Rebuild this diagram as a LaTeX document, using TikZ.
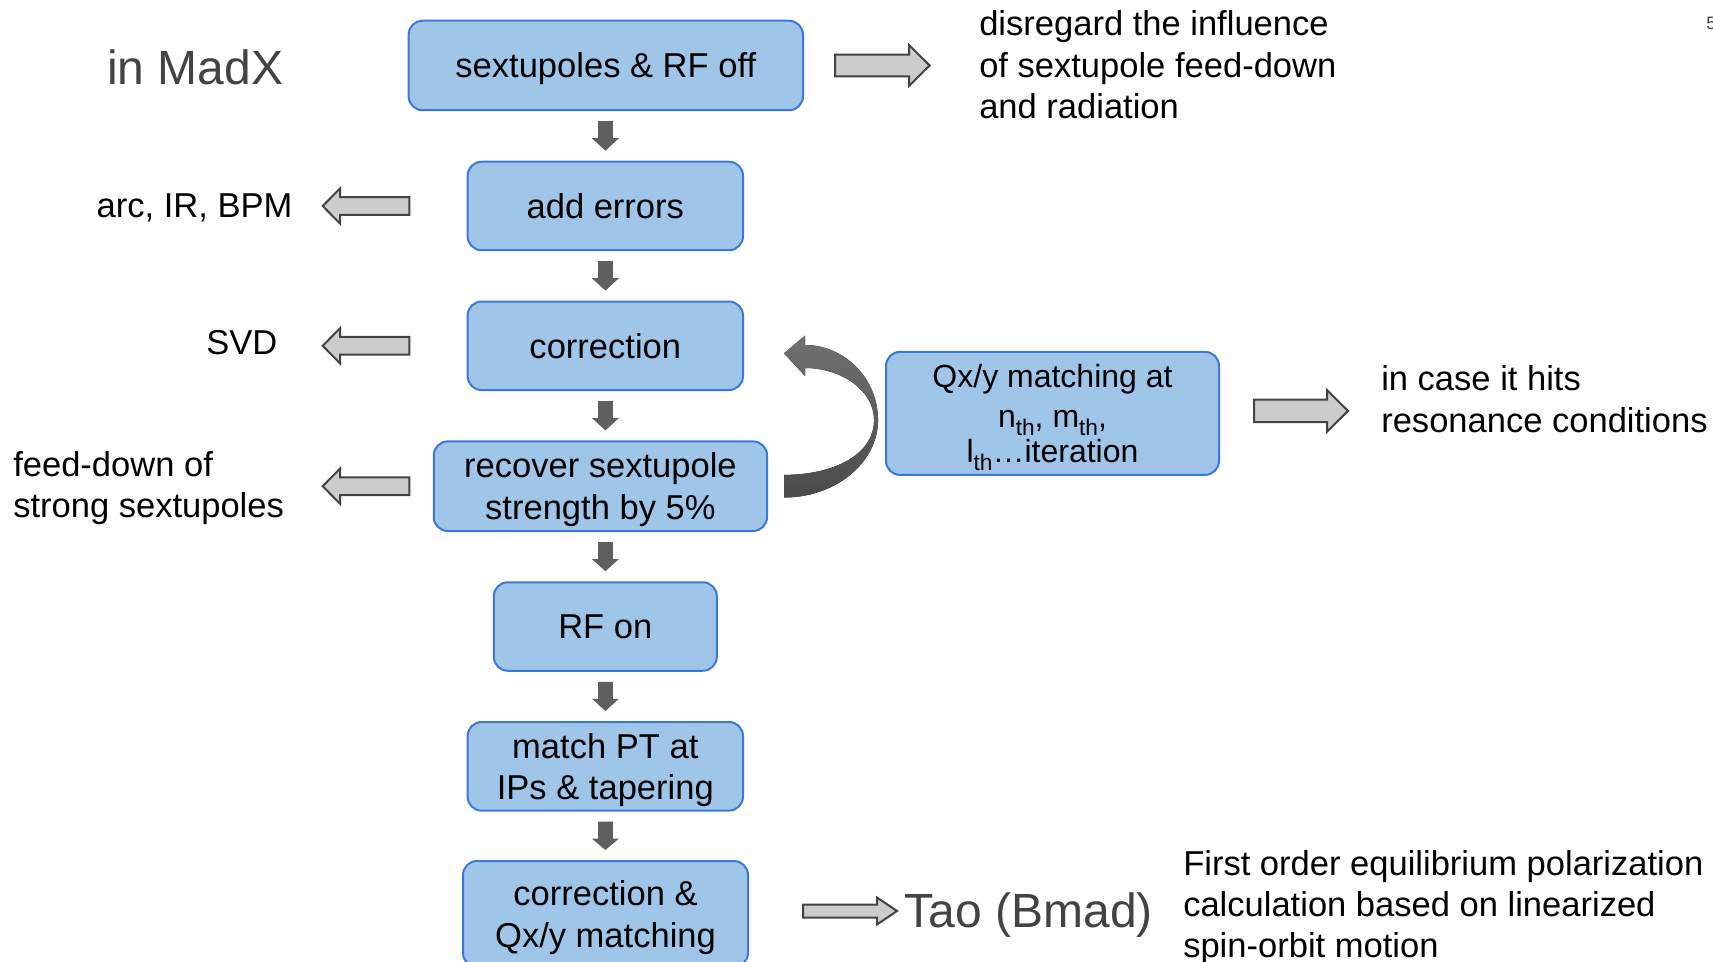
\documentclass[tikz,border=0pt]{standalone}
\usepackage{fontspec}
\setmainfont{Liberation Sans}
\usetikzlibrary{calc}

\definecolor{boxfill}{HTML}{9FC5E8}
\definecolor{boxline}{HTML}{3C78D8}
\definecolor{hollowfill}{HTML}{CCCCCC}
\definecolor{hollowline}{HTML}{434343}
\definecolor{flowgray}{HTML}{5F5F5F}
\definecolor{titlegray}{HTML}{434343}

% one drawing unit = one pixel of a 1713 x 962 canvas
\def\px{*0.75pt}
\newcommand\bodyfont{\fontsize{25.9pt}{31.1pt}\selectfont}
\newcommand\qfont{\fontsize{24pt}{30pt}\selectfont}
\newcommand\lines[1]{\begin{tabular}[t]{@{}l@{}}#1\end{tabular}}
\newcommand\clines[1]{\begin{tabular}[t]{@{}c@{}}#1\end{tabular}}
% lowered index in the matching box
\newcommand\idx[1]{\raisebox{-6pt}{\fontsize{17pt}{17pt}\selectfont #1}}

% dark block arrow between two stacked boxes
\newcommand\flowdown[2]{%
  \fill[flowarrow] ($(#1.south -| spine)+(-7.4,10)$) -- ++(14.8,0) -- ++(0,17) -- ++(6.1,0)
    -- ($(#2.north -| spine)+(0,-10)$) -- ($(#1.south -| spine)+(-13.5,27)$) -- ++(6.1,0) -- cycle;}

% outlined horizontal block arrow: tail, tip, shaft half, head half, head length
\newcommand\hollowarrow[5]{%
  \draw[sidearrow] ($(#1)+(0,-#3)$) -- ($(#2)!#5!(#1)+(0,-#3)$) -- ($(#2)!#5!(#1)+(0,-#4)$)
    -- (#2) -- ($(#2)!#5!(#1)+(0,#4)$) -- ($(#2)!#5!(#1)+(0,#3)$) -- ($(#1)+(0,#3)$) -- cycle;}

\begin{document}
\begin{tikzpicture}[x=0.75pt, y=-0.75pt,
  flowbox/.style={draw=boxline, fill=boxfill, line width=1.5pt, rounded corners=10.5pt,
    inner sep=0pt, align=center, font=\bodyfont, text height=18.7pt, text depth=0pt},
  twoline/.style={text depth=31.1pt},
  sidetext/.style={inner sep=0pt, font=\bodyfont},
  titletext/.style={inner sep=0pt, text=titlegray},
  flowarrow/.style={fill=flowgray},
  sidearrow/.style={fill=hollowfill, draw=hollowline, line width=1.5pt, line join=miter}]

\useasboundingbox[fill=white] (0,0) rectangle (1713,962);
\coordinate (spine) at (605.4,0);
\coordinate (leftcol) at (322.7,0);
\coordinate (tailcol) at (409.3,0);

% process boxes
\node[flowbox, minimum width=394.4\px, minimum height=89.5\px] (b1) at (605.8,65.5) {sextupoles \& RF off};
\node[flowbox, minimum width=275.4\px, minimum height=88.5\px] (b2) at (605.3,206) {add errors};
\node[flowbox, minimum width=275.4\px, minimum height=88.5\px] (b3) at (605.3,345.8) {correction};
\node[flowbox, twoline, minimum width=333.3\px, minimum height=89.6\px] (b4) at (600.4,486.2)
  {\clines{recover sextupole\\strength by 5\%}};
\node[flowbox, minimum width=223\px, minimum height=88.5\px] (b5) at (605.3,626.5) {RF on};
\node[flowbox, twoline, minimum width=275.4\px, minimum height=88.6\px] (b6) at (605.3,766.3)
  {\clines{match PT at\\IPs \& tapering}};
\node[flowbox, twoline, minimum width=285\px, minimum height=106\px] (b7) at (605.5,914)
  {\clines{correction \&\\Qx/y matching}};
\node[flowbox, font=\qfont, text height=17.25pt, text depth=56.25pt,
  minimum width=333\px, minimum height=123\px] (bq) at (1052.5,413.4)
  {\clines{Qx/y matching at\\n\idx{th}, m\idx{th},\\[-3.75pt]l\idx{th}…iteration}};

% annotations
\node[titletext, font=\fontsize{36pt}{43pt}\selectfont, anchor=base west] (madx) at (107,85) {in MadX};
\node[sidetext, anchor=base west] (t1) at (979,36) {\lines{disregard the influence\\of sextupole feed-down\\and radiation}};
\node[sidetext, anchor=base east] (t2) at (292.7,217.3) {arc, IR, BPM};
\node[sidetext, anchor=base east] (t3) at (277.7,355) {SVD};
\node[sidetext, anchor=base west] (t4) at (13,476) {\lines{feed-down of\\strong sextupoles}};
\node[sidetext, anchor=base west] (t5) at (1381,391) {\lines{in case it hits\\resonance conditions}};
\node[titletext, font=\fontsize{36pt}{43pt}\selectfont, anchor=base west] (tao) at (904.6,927.3) {Tao (Bmad)};
\node[sidetext, anchor=base west] (t6) at (1183,875)
  {\lines{First order equilibrium polarization\\calculation based on linearized\\spin-orbit motion}};
\node[titletext, font=\fontsize{13.5pt}{16pt}\selectfont, anchor=base west] (pg) at (1706,30) {5};

% main flow
\flowdown{b1}{b2}
\flowdown{b2}{b3}
\flowdown{b3}{b4}
\flowdown{b4}{b5}
\flowdown{b5}{b6}
\flowdown{b6}{b7}

% side notes
\coordinate (r1tail) at ($(b1.east)+(31,0)$);
\coordinate (r1tip) at ($(t1.west |- b1.east)+(-49.4,0)$);
\hollowarrow{r1tail}{r1tip}{10.8}{20.5}{15.45pt}

\coordinate (l2tail) at (tailcol |- b2.west);
\coordinate (l2tip) at (leftcol |- b2.west);
\hollowarrow{l2tail}{l2tip}{8.8}{17.6}{13pt}

\coordinate (l3tail) at (tailcol |- b3.west);
\coordinate (l3tip) at (leftcol |- b3.west);
\hollowarrow{l3tail}{l3tip}{8.8}{17.6}{13pt}

\coordinate (l4tail) at (tailcol |- b4.west);
\coordinate (l4tip) at (leftcol |- b4.west);
\hollowarrow{l4tail}{l4tip}{8.8}{17.6}{13pt}

\coordinate (rqtail) at ($(bq.east)+(34,-2.5)$);
\coordinate (rqtip) at ($(t5.west |- rqtail)+(-33,0)$);
\hollowarrow{rqtail}{rqtip}{11.2}{20.8}{15.75pt}

\coordinate (rbtail) at ($(b7.east)+(54,-3)$);
\coordinate (rbtip) at ($(tao.west |- rbtail)+(-7.6,0)$);
\hollowarrow{rbtail}{rbtip}{6.5}{13.5}{15pt}

% iteration loop back from the sextupole step to the correction
\coordinate (fbTail) at ($(b4.east)+(16,0)$);
\coordinate (fbTip) at ($(b3.east)+(40,7.5)$);
\fill[top color=black!56, bottom color=black!71]
  ($(fbTail)+(0,11.3)$) .. controls ($(fbTail)+(52,11.3)$) and ($(fbTail)+(94,-24)$) .. ($(fbTail)+(94,-66.2)$)
  .. controls ($(fbTail)+(94,-107)$) and ($(fbTip)+(61,-8.3)$) .. ($(fbTip)+(21,-8.3)$)
  -- ($(fbTip)+(21,-17.6)$) -- (fbTip) -- ($(fbTip)+(21,22.7)$) -- ($(fbTip)+(21,14.7)$)
  .. controls ($(fbTip)+(57,14.7)$) and ($(fbTail)+(90,-96)$) .. ($(fbTail)+(90,-66.2)$)
  .. controls ($(fbTail)+(90,-31)$) and ($(fbTail)+(49,-11.3)$) .. ($(fbTail)+(0,-11.3)$) -- cycle;

\end{tikzpicture}
\end{document}
